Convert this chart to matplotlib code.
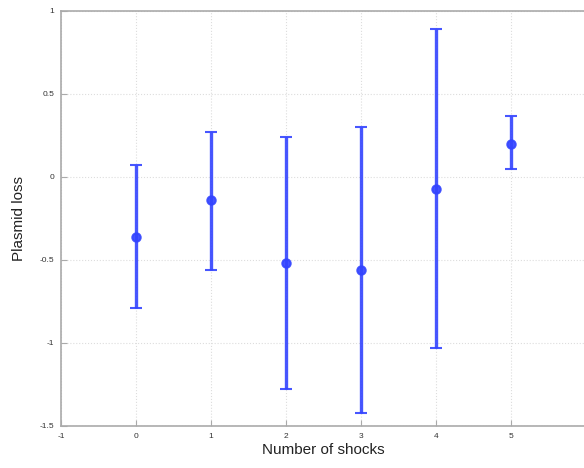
import matplotlib
matplotlib.use("Agg")
import matplotlib.pyplot as plt
import numpy as np

shocks = [0, 1, 2, 3, 4, 5]
mean_loss = [-0.36, -0.14, -0.52, -0.56, -0.07, 0.20]
upper = [0.07, 0.27, 0.24, 0.30, 0.89, 0.37]
lower = [-0.79, -0.56, -1.28, -1.42, -1.03, 0.05]

x_ticks = [-1, 0, 1, 2, 3, 4, 5, 6]
y_ticks = [-1.5, -1, -0.5, 0, 0.5, 1]
y_labels = ["-1.5", "-1", "-0.5", "0", "0.5", "1"]

plt.rcParams['font.family'] = ['Liberation Sans', 'DejaVu Sans']
plt.rcParams['axes.unicode_minus'] = False
fig = plt.figure(figsize=(5.84, 4.68), dpi=100)
ax = fig.add_axes([61/584, 1-426/468, 525/584, 415/468])

m = np.array(mean_loss)
yerr = [m - np.array(lower), np.array(upper) - m]
ax.errorbar(shocks, mean_loss, yerr=yerr, fmt='o', color='#3344ff', ecolor='#3344ff',
            elinewidth=2.4, capsize=4.5, capthick=2.0, markersize=6, markeredgewidth=1.5,
            markerfacecolor='#3344ff', zorder=3, alpha=0.9)

ax.set_xlim(-1, 6)
ax.set_ylim(-1.5, 1)
ax.set_xticks(x_ticks)
ax.set_xticklabels([str(v) for v in x_ticks])
ax.set_yticks(y_ticks)
ax.set_yticklabels(y_labels)
ax.grid(True, linestyle=':', color='#dddddd', linewidth=0.8)
ax.tick_params(direction='in', length=4, width=0.8, colors='#aaaaaa', labelsize=6,
               labelcolor='#333333', pad=5)
for s in ax.spines.values():
    s.set_color('#aaaaaa')
    s.set_linewidth(1.2)
ax.set_xlabel("Number of shocks", fontsize=11, color='#222222', labelpad=2)
ax.set_ylabel("Plasmid loss", fontsize=11, color='#222222', labelpad=10)

fig.savefig("out.png", dpi=100)
